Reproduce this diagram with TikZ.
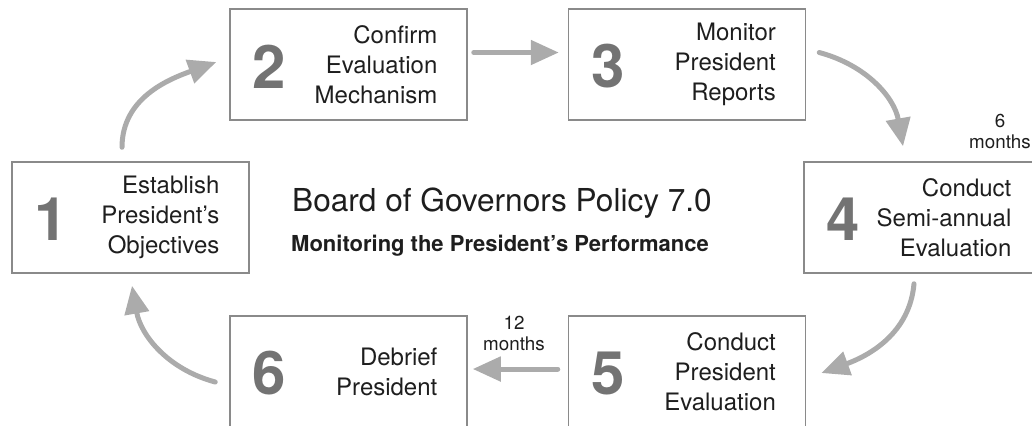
\documentclass[tikz,border=0pt]{standalone}
\usepackage{fontspec}
\setmainfont{TeX Gyre Heros}
\usetikzlibrary{arrows.meta, positioning}
\definecolor{boxline}{HTML}{8A8A8A}
\definecolor{arrowgray}{HTML}{ABABAB}
\definecolor{numgray}{HTML}{737373}
\definecolor{textdark}{HTML}{1E1E1E}

\begin{document}
\begin{tikzpicture}[x=0.5pt, y=-0.5pt]
			\tikzset {node distance=50pt, stage/.style={draw=boxline, line width=0.75pt, minimum width=118.5pt, minimum height=55.5pt, inner sep=0pt}, num/.style={font=\fontsize{30}{30}\selectfont\bfseries, text=numgray, inner sep=0pt}, lbl/.style={font=\fontsize{12}{15}\selectfont, text=textdark, align=right, inner sep=0pt}, months/.style={font=\fontsize{9.4}{10.5}\selectfont, text=textdark, align=center, inner sep=0pt}, flow/.style={draw=arrowgray, line width=2.5pt, line cap=round, -{Triangle[length=14pt, width=12pt]}} }

			\useasboundingbox (0,0) rectangle (1032,425);
			\clip (0,0) rectangle (1032,425);

			\node[stage] (b1) at (130.5,217.5) {};
			\node[stage] (b2) at (348.5,64.5) {};
			\node[stage, right=of b2] (b3) {};
			\node[stage] (b4) at (922.5,217.5) {};
			\node[stage] (b6) at (348.5,371.5) {};
			\node[stage, right=of b6] (b5) {};

			\node[num, right=11.5pt of b1.west, yshift=-1pt] (n1) {1};
			\node[num, right=11.5pt of b2.west, yshift=-1pt] (n2) {2};
			\node[num, right=11.5pt of b3.west, yshift=-1pt] (n3) {3};
			\node[num, right=11.5pt of b4.west, yshift=-1pt] (n4) {4};
			\node[num, right=11.5pt of b5.west, yshift=-1pt] (n5) {5};
			\node[num, right=11.5pt of b6.west, yshift=-1pt] (n6) {6};

			\node[lbl, left=15pt of b1.east] (t1) {Establish\\President's\\Objectives};
			\node[lbl, left=15pt of b2.east] (t2) {Confirm\\Evaluation\\Mechanism};
			\node[lbl, left=15pt of b3.east] (t3) {Monitor\\President\\Reports};
			\node[lbl, left=15pt of b4.east] (t4) {Conduct\\Semi-annual\\Evaluation};
			\node[lbl, left=15pt of b5.east] (t5) {Conduct\\President\\Evaluation};
			\node[lbl, left=15pt of b6.east] (t6) {Debrief\\President};

			\node[font=\fontsize{15.8}{19}\selectfont, text=textdark] (title) at (502,203) {Board of Governors Policy 7.0};
			\node[font=\fontsize{11}{13}\selectfont\bfseries, text=textdark] (subtitle) at (500,246) {Monitoring the President's Performance};

			\node[months] (m6) at (1000,131) {6\\months};
			\node[months] (m12) at (514,333) {12\\months};

			\draw[flow] ([xshift=-4.25pt, yshift=7pt]b1.north) to[out=90, in=200] ([xshift=-6.5pt, yshift=1.25pt]b2.west);
			\draw[flow] ([xshift=3pt, yshift=6pt]b2.east) -- ([xshift=-4.5pt, yshift=6pt]b3.west);
			\draw[flow] ([xshift=6.5pt, yshift=6pt]b3.east) to[out=-15, in=100] ([xshift=-9.75pt, yshift=7.5pt]b4.north);
			\draw[flow] ([xshift=-4.25pt, yshift=-5pt]b4.south) to[out=-95, in=20] ([xshift=7.5pt, yshift=-0.75pt]b5.east);
			\draw[flow] ([xshift=-5pt, yshift=1.25pt]b5.west) -- ([xshift=2.5pt, yshift=1.25pt]b6.east);
			\draw[flow] ([xshift=-7pt, yshift=-5.25pt]b6.west) to[out=165, in=-80] ([xshift=0.75pt, yshift=-6pt]b1.south);
		\end{tikzpicture}
\end{document}
